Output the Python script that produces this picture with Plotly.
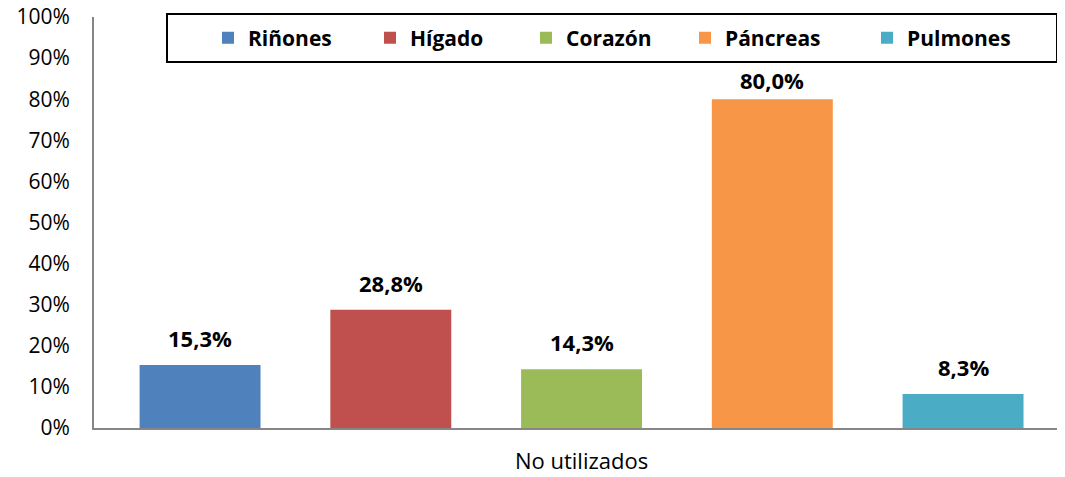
import plotly.graph_objects as go

categories = ["Riñones", "Hígado", "Corazón", "Páncreas", "Pulmones"]
values = [15.3, 28.8, 14.3, 80.0, 8.3]
colors = ["#4F81BD", "#C0504D", "#9BBB59", "#F79646", "#4BACC6"]
x_label = "No utilizados"
y_ticks = list(range(0, 101, 10))
y_ticktext = [f"{v}%" for v in y_ticks]

FONT = "Open Sans"
# page body has an 8px margin: work in figure coordinates (reference px - 8)
W, H = 1057, 469
L, R, T, B = 86, 2, 9, 49
PW, PH = W - L - R, H - T - B
legend_swatch_x = [222, 384, 540, 699, 881]  # reference-page pixels

fig = go.Figure()
layout_legends = {}
for i, (name, v, c) in enumerate(zip(categories, values, colors)):
    lg = "legend" if i == 0 else f"legend{i + 1}"
    fig.add_trace(go.Bar(x=[i], y=[v], name=name, marker_color=c, width=0.634,
                         marker_line_width=0, hoverinfo="skip", legend=lg))
    fig.add_annotation(x=i, y=v, text=f"{v:.1f}%".replace(".", ","), showarrow=False,
                       yanchor="middle", yshift=27 if v < 75 else 19,
                       font=dict(family=FONT, size=22, color="black", weight="bold"))
    layout_legends[lg] = dict(orientation="h", x=(legend_swatch_x[i] - 22 - L) / PW,
                              y=(420 - 30) / PH, xanchor="left", yanchor="middle",
                              font=dict(family=FONT, size=21, color="black", weight="bold"),
                              bgcolor="rgba(0,0,0,0)", borderwidth=0)

fig.add_shape(type="rect", xref="paper", yref="paper",
              x0=(167 - 8 - L) / PW, x1=(1057 - 8 - L) / PW,
              y0=(420 - (62 - 8)) / PH, y1=(420 - (14 - 8)) / PH,
              line=dict(color="black", width=2), fillcolor="rgba(0,0,0,0)")

fig.update_layout(
    width=W, height=H,
    margin=dict(l=L, r=R, t=T, b=B, autoexpand=False),
    paper_bgcolor="white", plot_bgcolor="white",
    font=dict(family=FONT, size=21, color="black"),
    barmode="overlay",
    showlegend=True,
    xaxis=dict(range=[-0.556, 4.524], tickvals=[2], ticktext=[x_label],
               showline=True, linecolor="#868686", linewidth=2, showgrid=False,
               ticks="", ticklabelstandoff=13, zeroline=False, automargin=False,
               tickfont=dict(size=22)),
    yaxis=dict(range=[0, 100], tickvals=y_ticks, ticktext=y_ticktext,
               showline=True, linecolor="#868686", linewidth=2, showgrid=False,
               ticks="", ticklabelstandoff=18, zeroline=False, automargin=False,
               ticklabeloverflow="allow", tickfont=dict(size=21)),
    **layout_legends,
)
fig.write_html("out.html")
